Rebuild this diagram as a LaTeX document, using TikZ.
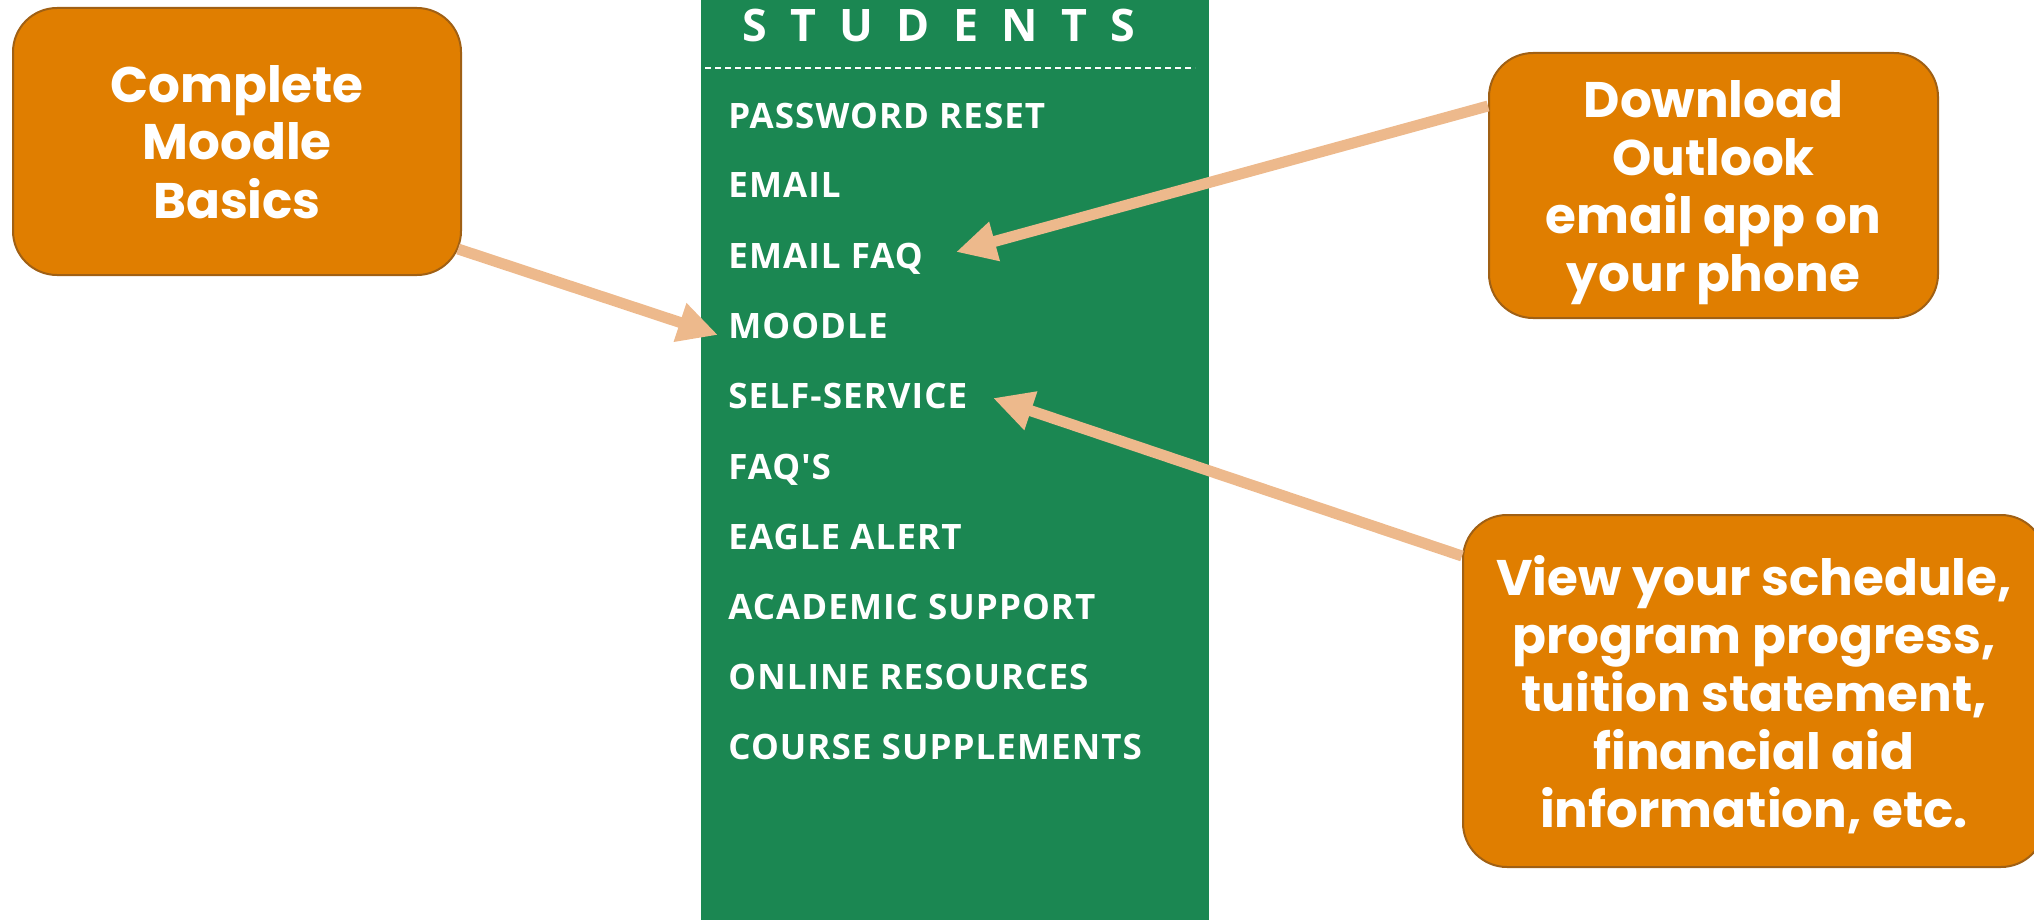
\documentclass[tikz,border=0pt]{standalone}
\usepackage{fontspec}
\usetikzlibrary{arrows.meta,calc}
\newfontfamily\menufont{Open Sans}[LetterSpace=3]
\newfontfamily\headfont{Open Sans}[LetterSpace=52]
\newfontfamily\boxfont{Poppins}
\definecolor{panelgreen}{RGB}{27,135,82}
\definecolor{boxorange}{RGB}{224,126,0}
\definecolor{boxedge}{RGB}{160,96,20}
\definecolor{peach}{RGB}{237,185,140}
\tikzset{
  menuitem/.style={anchor=base west, inner sep=0pt, text=white,
    font=\menufont\bfseries\fontsize{17.5pt}{20pt}\selectfont},
  callout/.style={draw=boxedge, line width=1pt, fill=boxorange, rounded corners=22pt,
    text=white, align=center, inner sep=0pt, text depth=-4pt,
    font=\boxfont\bfseries\fontsize{25pt}{29pt}\selectfont},
  pointer/.style={draw=peach, line width=5.5pt,
    -{Triangle[length=20pt,width=19pt]}}
}
\begin{document}
\begin{tikzpicture}[x=0.5pt,y=-0.5pt]
\useasboundingbox (0,0) rectangle (2034,920);
% green panel
\node[fill=panelgreen, inner sep=0pt, minimum width=254pt, minimum height=460pt,
      anchor=north west] (panel) at (701,0) {};
\node[anchor=base west, inner sep=0pt, text=white,
      font=\headfont\bfseries\fontsize{22.4pt}{24pt}\selectfont] (head) at (742,42) {STUDENTS};
\coordinate (dl) at (705,68);
\coordinate (dr) at (1195,68);
\draw[white, line width=1pt, dash pattern=on 3pt off 2pt] (dl) -- (dr);
% menu
\node[menuitem] (m1) at (728,128) {PASSWORD RESET};
\node[menuitem] (m2) at (728,198) {EMAIL};
\node[menuitem] (m3) at (728,268) {EMAIL FAQ};
\node[menuitem] (m4) at (728,338) {MOODLE};
\node[menuitem] (m5) at (728,408) {SELF-SERVICE};
\node[menuitem] (m6) at (728,479) {FAQ'S};
\node[menuitem] (m7) at (728,549) {EAGLE ALERT};
\node[menuitem] (m8) at (728,619) {ACADEMIC SUPPORT};
\node[menuitem] (m9) at (728,689) {ONLINE RESOURCES};
\node[menuitem] (m10) at (728,759) {COURSE SUPPLEMENTS};
% callouts
\node[callout, minimum width=224pt, minimum height=133.5pt] (b1) at (237,141.5)
  {Complete\\Moodle\\Basics};
\node[callout, minimum width=224.5pt, minimum height=132.5pt] (b2) at (1713.5,185.5)
  {Download\\Outlook\\email app on\\your phone};
\node[callout, minimum width=291pt, minimum height=176pt] (b3) at (1754,691)
  {View your schedule,\\program progress,\\tuition statement,\\financial aid\\information, etc.};
% arrows
\draw[pointer] ($(b1.south east)+(-4,-27)$) -- ($(m4.base west)+(-10,-3)$);
\draw[pointer] ($(b2.north west)+(0,54)$) -- ($(m3.base west)+(228,-16)$);
\draw[pointer] ($(b3.north west)+(0,42)$) -- ($(m5.base west)+(265,-10)$);
\end{tikzpicture}
\end{document}
